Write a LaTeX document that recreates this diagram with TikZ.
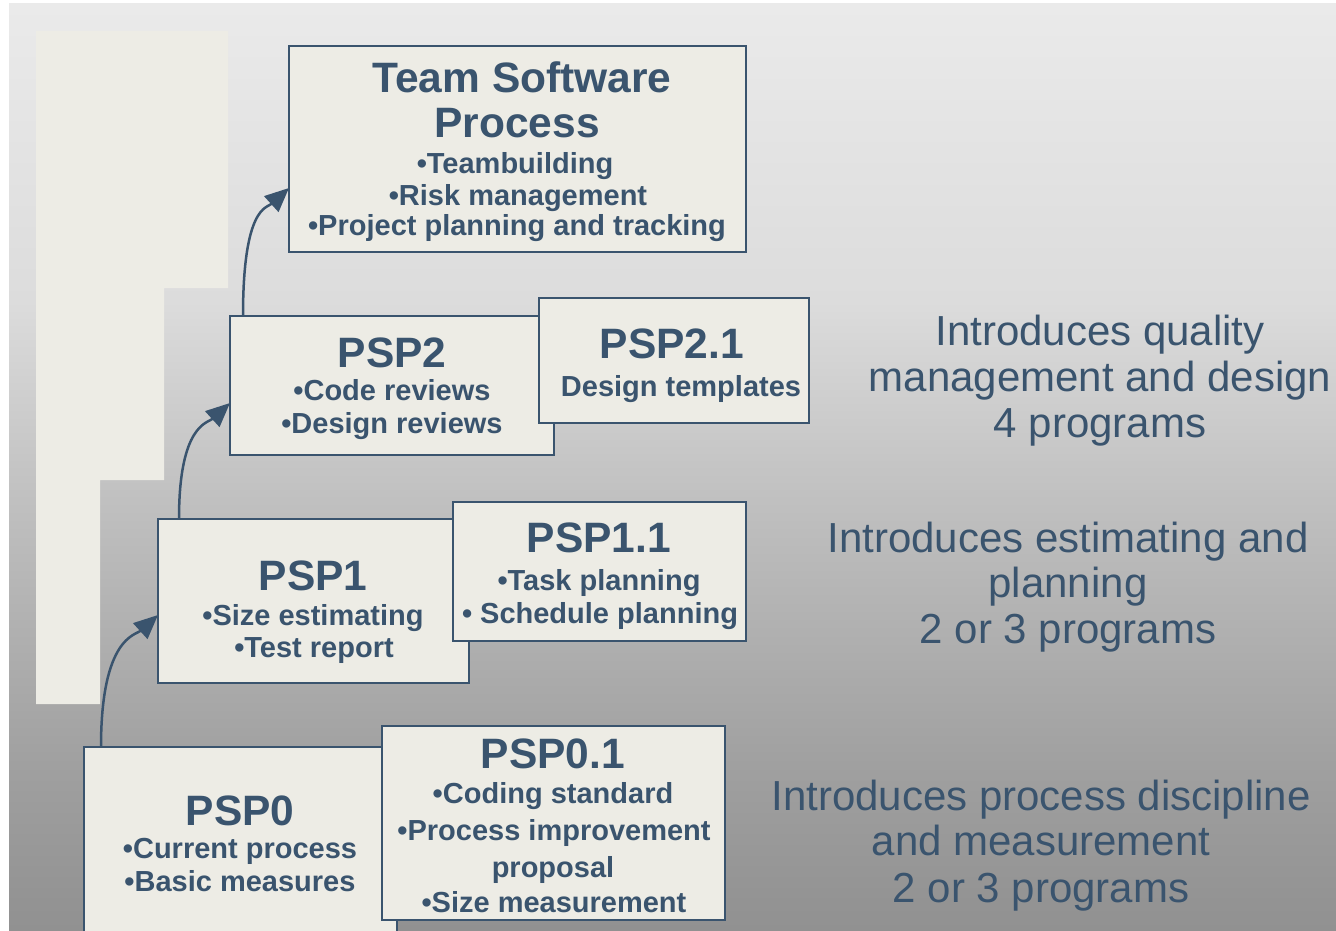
\documentclass[tikz,border=0pt]{standalone}
\usepackage{fontspec}
\setmainfont{Liberation Sans}
\usetikzlibrary{arrows.meta,calc}

\definecolor{ink}{RGB}{58,84,110}
\definecolor{paper}{RGB}{237,236,229}
\definecolor{gA}{RGB}{145,145,145}
\definecolor{gB}{RGB}{147,147,147}
\definecolor{gC}{RGB}{160,160,160}
\definecolor{gD}{RGB}{192,192,192}
\definecolor{gE}{RGB}{220,220,220}
\definecolor{gF}{RGB}{234,234,234}

% vertical backdrop gradient, stops placed in the 25bp--75bp band that TikZ fits to the path
\pgfdeclareverticalshading{backdrop}{100bp}{%
  color(0bp)=(gA); color(25bp)=(gA); color(26.5bp)=(gB); color(34bp)=(gC);
  color(48.25bp)=(gD); color(59bp)=(gE); color(75bp)=(gF); color(100bp)=(gF)}

\begin{document}
\begin{tikzpicture}[x=1pt,y=-1pt,
  box/.style={draw=ink, line width=2.5pt, fill=paper, inner sep=0pt, outer sep=0pt, anchor=north west},
  ttl/.style={anchor=base, inner sep=0pt, text=ink, font=\fontsize{42.5}{46}\selectfont\bfseries},
  blt/.style={anchor=base, inner sep=0pt, text=ink, font=\fontsize{29}{33}\selectfont\bfseries},
  note/.style={anchor=base, inner sep=0pt, text=ink, font=\fontsize{42}{46}\selectfont},
  arr/.style={draw=ink, line width=2.5pt, -{Triangle[length=24pt,width=21pt]}}]

\useasboundingbox (0,0) rectangle (1336,931);
\clip (0,0) rectangle (1336,931);

% page and backdrop
\fill[white] (0,0) rectangle (1336,931);
\shade[shading=backdrop] (9,4) rectangle (1336,931);

% stepped panel behind the staircase
\fill[paper] (36,31) -- (228,31) -- (228,288) -- (164,288) -- (164,480)
  -- (100,480) -- (100,704) -- (36,704) -- cycle;

% level 0
\node[box, minimum width=313pt, minimum height=230pt] (p0) at (84,747) {};
\node[ttl] (p0a) at (240,825) {PSP0};
\node[blt] (p0b) at (240,858) {•Current process};
\node[blt] (p0c) at (240,891) {•Basic measures};

\node[box, minimum width=343pt, minimum height=194pt] (p01) at (382,726) {};
\node[ttl] (p01a) at (553,768) {PSP0.1};
\node[blt] (p01b) at (553,803) {•Coding standard};
\node[blt] (p01c) at (554,840) {•Process improvement};
\node[blt] (p01d) at (553,877) {proposal};
\node[blt] (p01e) at (554,912) {•Size measurement};

% level 1
\node[box, minimum width=311pt, minimum height=164pt] (p1) at (158,519) {};
\node[ttl] (p1a) at (313,590) {PSP1};
\node[blt] (p1b) at (313,625) {•Size estimating};
\node[blt] (p1c) at (314,657) {•Test report};

\node[box, minimum width=293pt, minimum height=139pt] (p11) at (453,502) {};
\node[ttl] (p11a) at (599,552) {PSP1.1};
\node[blt] (p11b) at (599,590) {•Task planning};
\node[blt] (p11c) at (600,623) {• Schedule planning};

% level 2
\node[box, minimum width=324pt, minimum height=139pt] (p2) at (230,316) {};
\node[ttl] (p2a) at (392,367) {PSP2};
\node[blt] (p2b) at (392,400) {•Code reviews};
\node[blt] (p2c) at (392,433) {•Design reviews};

\node[box, minimum width=270pt, minimum height=125pt] (p21) at (539,298) {};
\node[ttl] (p21a) at (672,358) {PSP2.1};
\node[blt] (p21b) at (681,396) {Design templates};

% team level
\node[box, minimum width=457pt, minimum height=206pt] (tsp) at (289,46) {};
\node[ttl] (tspa) at (522,93) {Team Software};
\node[ttl] (tspb) at (517,138) {Process};
\node[blt] (tspc) at (515,173) {•Teambuilding};
\node[blt] (tspd) at (518,205) {•Risk management};
\node[blt] (tspe) at (517,235) {•Project planning and tracking};

% progression arrows
\draw[arr] ($(p0.north west)+(17,0)$) .. controls ($(p0.north west)+(17,-110)$)
  and ($(p1.north west)+(-22,116)$) .. ($(p1.north west)+(0,96)$);
\draw[arr] ($(p1.north west)+(21,0)$) .. controls ($(p1.north west)+(21,-95)$)
  and ($(p2.north west)+(-22,107)$) .. ($(p2.north west)+(0,87)$);
\draw[arr] ($(p2.north west)+(13,0)$) .. controls ($(p2.north west)+(13,-110)$)
  and ($(tsp.north west)+(-22,162)$) .. ($(tsp.north west)+(0,142)$);

% level descriptions
\node[note] (d2a) at (1100,345) {Introduces quality};
\node[note] (d2b) at (1100,391) {management and design};
\node[note] (d2c) at (1100,437) {4 programs};

\node[note] (d1a) at (1068,552) {Introduces estimating and};
\node[note] (d1b) at (1068,597) {planning};
\node[note] (d1c) at (1068,643) {2 or 3 programs};

\node[note] (d0a) at (1041,810) {Introduces process discipline};
\node[note] (d0b) at (1041,855) {and measurement};
\node[note] (d0c) at (1041,902) {2 or 3 programs};
\end{tikzpicture}
\end{document}
